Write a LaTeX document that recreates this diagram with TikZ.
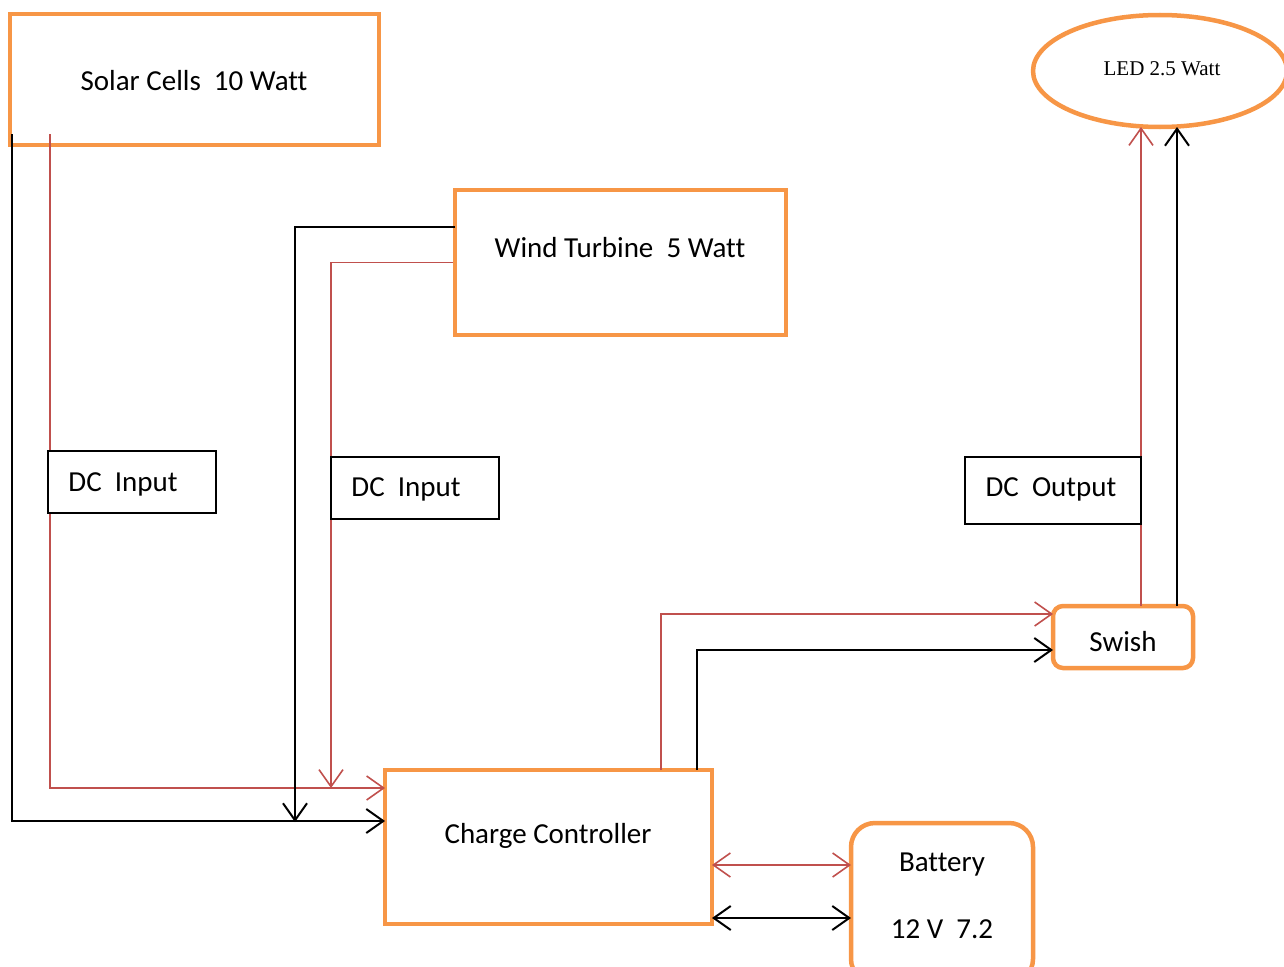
\documentclass[tikz,border=0pt]{standalone}
\usepackage{fontspec}
\setmainfont[Ligatures=NoCommon]{Carlito}
\newfontfamily\timesf{Liberation Serif}
\usetikzlibrary{arrows.meta,shapes.geometric}
\definecolor{orng}{HTML}{F79646}
\definecolor{rd}{HTML}{C0504D}
\begin{document}
\begin{tikzpicture}[x=1pt,y=-1pt,
  obox/.style={draw=orng,line width=4.5pt,fill=white,inner sep=0pt},
  tbox/.style={draw=black,line width=1.8pt,fill=white,inner sep=0pt},
  txt/.style={font=\fontsize{29}{34}\selectfont,inner sep=0pt,anchor=base},
  blk/.style={draw=black,line width=2pt},
  rl/.style={draw=rd,line width=1.6pt},
  >={Straight Barb[length=17pt,width=24pt]}]
\useasboundingbox (0,0) rectangle (1284,966);
% main blocks
\node[obox,minimum width=369pt,minimum height=131pt] (solar) at (194.5,79.5) {};
\node[obox,minimum width=331pt,minimum height=145pt] (wind) at (620.5,262.5) {};
\node[obox,ellipse,minimum width=254pt,minimum height=112pt] (led) at (1160,71) {};
\node[obox,rounded corners=10pt,minimum width=140pt,minimum height=62pt] (swish) at (1123,637) {};
\node[obox,minimum width=327pt,minimum height=154pt] (cc) at (548.5,847) {};
\node[obox,rounded corners=24pt,minimum width=182pt,minimum height=160pt] (batt) at (942,903) {};
% connector end points
\coordinate (sB) at (12,134);
\coordinate (sR) at (50,134);
\coordinate (ccB) at (385,821);
\coordinate (ccR) at (385,788);
\coordinate (wB) at (455,227);
\coordinate (wBd) at (295,822);
\coordinate (wRd) at (331,788);
\coordinate (cRu) at (661,770);
\coordinate (cBu) at (697,770);
\coordinate (swR) at (1053,614);
\coordinate (swB) at (1053,650);
\coordinate (swRu) at (1141,606);
\coordinate (swBu) at (1177,606);
\coordinate (ledR) at (1141,127);
\coordinate (ledB) at (1177,127);
\coordinate (ccR2) at (712,865);
\coordinate (btR) at (851,865);
\coordinate (ccB2) at (712,918);
\coordinate (btB) at (851,918);
% connectors
\draw[blk,->] (sB) |- (ccB);
\draw[rl,->] (sR) |- (ccR);
\draw[blk,->] (wB) -| (wBd);
\draw[rl,->] (wind.west) -| (wRd);
\draw[rl,->] (cRu) |- (swR);
\draw[blk,->] (cBu) |- (swB);
\draw[rl,->] (swRu) -- (ledR);
\draw[blk,->] (swBu) -- (ledB);
\draw[rl,<->] (ccR2) -- (btR);
\draw[blk,<->] (ccB2) -- (btB);
% label boxes
\node[tbox,minimum width=168pt,minimum height=62pt] (dc1) at (132,482) {};
\node[tbox,minimum width=168pt,minimum height=62pt] (dc2) at (415,488) {};
\node[tbox,minimum width=176pt,minimum height=67pt] (dco) at (1053,490.5) {};
% texts
\node[txt] (tsolar) at (194,90) {Solar Cells~~10 Watt};
\node[txt] (twind) at (620,257) {Wind Turbine~~5 Watt};
\node[txt] (tdc1) at (123,491) {DC~~Input};
\node[txt] (tdc2) at (406,496) {DC~~Input};
\node[txt] (tdco) at (1051,496) {DC~~Output};
\node[txt] (tsw) at (1123,651) {Swish};
\node[txt] (tcc) at (548,843) {Charge Controller};
\node[txt] (tbat) at (942,871) {Battery};
\node[txt] (tbat2) at (942,938) {12 V~~7.2};
\node[inner sep=0pt,anchor=base,font=\timesf\fontsize{21}{25}\selectfont] (tled) at (1162,75) {LED 2.5 Watt};
\end{tikzpicture}
\end{document}
